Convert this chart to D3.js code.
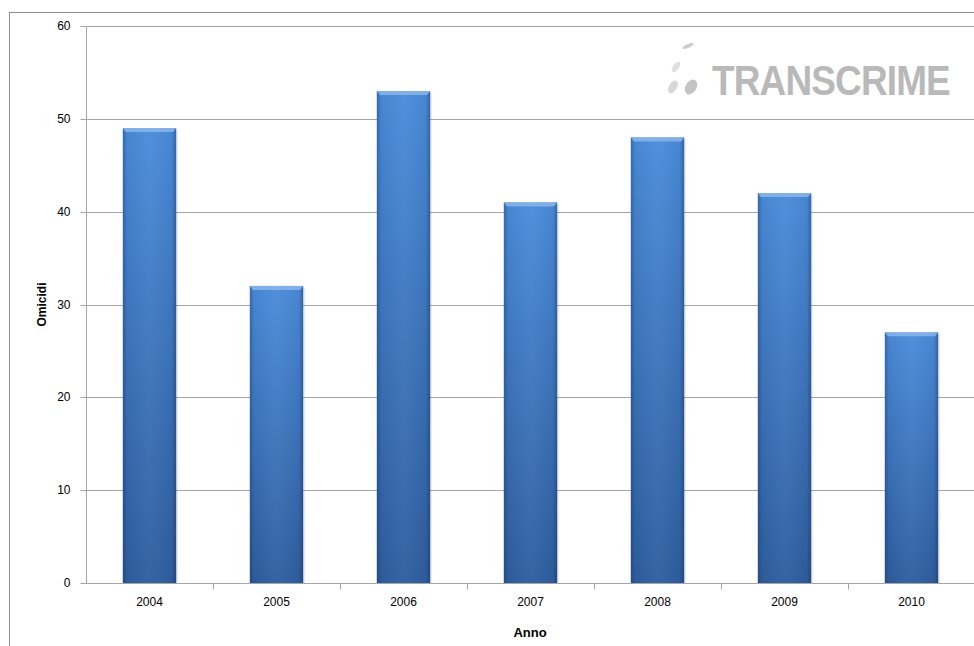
<!DOCTYPE html>
<html><head><meta charset="utf-8">
<script src="https://cdn.jsdelivr.net/npm/d3@7"></script>
<style>body{margin:0;background:#fff}svg{display:block}</style>
</head><body>
<svg id="c" width="974" height="646"></svg>
<script>
const years = ["2004","2005","2006","2007","2008","2009","2010"];
const omicidi = [49, 32, 53, 41, 48, 42, 27];
const yTicks = [0, 10, 20, 30, 40, 50, 60];
const yTitle = "Omicidi";
const xTitle = "Anno";
const logoText = "TRANSCRIME";

const svg = d3.select("#c");
const m = {left: 86, top: 26, right: 975, bottom: 583};
const FONT = "Arial, 'Liberation Sans', sans-serif";

// outer frame (extends beyond canvas)
svg.append("rect").attr("x", 9.5).attr("y", 12.5).attr("width", 1000).attr("height", 700)
  .attr("fill", "none").attr("stroke", "#8c8c8c").attr("stroke-width", 1);

const x = d3.scaleBand().domain(years).range([m.left, m.right]).paddingInner(0.58).paddingOuter(0.29);
const xb = d3.scaleBand().domain(years).range([m.left, m.right]);
const y = d3.scaleLinear().domain([0, 60]).range([m.bottom, m.top]);

const defs = svg.append("defs");
const gv = defs.append("linearGradient").attr("id", "gv").attr("x1", 0).attr("y1", 0).attr("x2", 0).attr("y2", 1);
gv.append("stop").attr("offset", 0).attr("stop-color", "#4a8bd9");
gv.append("stop").attr("offset", 1).attr("stop-color", "#2e5d9e");
const gh = defs.append("linearGradient").attr("id", "gh").attr("x1", 0).attr("y1", 0).attr("x2", 1).attr("y2", 0);
gh.append("stop").attr("offset", 0).attr("stop-color", "#10284d").attr("stop-opacity", 0.35);
gh.append("stop").attr("offset", 0.08).attr("stop-color", "#10284d").attr("stop-opacity", 0.05);
gh.append("stop").attr("offset", 0.5).attr("stop-color", "#ffffff").attr("stop-opacity", 0.04);
gh.append("stop").attr("offset", 0.92).attr("stop-color", "#10284d").attr("stop-opacity", 0.05);
gh.append("stop").attr("offset", 1).attr("stop-color", "#10284d").attr("stop-opacity", 0.4);

// gridlines
svg.append("g").selectAll("line").data(yTicks.filter(d => d > 0)).join("line")
  .attr("x1", m.left).attr("x2", m.right).attr("y1", d => Math.round(y(d)) + 0.5).attr("y2", d => Math.round(y(d)) + 0.5)
  .attr("stroke", "#a6a6a6").attr("stroke-width", 1);

// bars
const bars = svg.append("g");
bars.selectAll("rect.sh").data(years).join("rect").attr("class", "sh")
  .attr("x", d => x(d) + 2).attr("y", (d, i) => y(omicidi[i]) + 2)
  .attr("width", x.bandwidth()).attr("height", (d, i) => y(0) - y(omicidi[i]) - 2)
  .attr("fill", "#000").attr("opacity", 0.08);
bars.selectAll("rect.b").data(years).join("rect").attr("class", "b")
  .attr("x", d => x(d)).attr("y", (d, i) => y(omicidi[i]))
  .attr("width", x.bandwidth()).attr("height", (d, i) => y(0) - y(omicidi[i]))
  .attr("fill", "url(#gv)");
bars.selectAll("rect.h").data(years).join("rect").attr("class", "h")
  .attr("x", d => x(d)).attr("y", (d, i) => y(omicidi[i]))
  .attr("width", x.bandwidth()).attr("height", (d, i) => y(0) - y(omicidi[i]))
  .attr("fill", "url(#gh)");
bars.selectAll("path.t").data(years).join("path").attr("class", "t")
  .attr("d", (d, i) => {
    const x0 = x(d), x1 = x(d) + x.bandwidth(), t = y(omicidi[i]);
    return `M${x0},${t}L${x1},${t}L${x1 - 3},${t + 4}L${x0 + 3},${t + 4}Z`;
  })
  .attr("fill", "#8fb8ec").attr("opacity", 0.8);

// y axis
const ya = svg.append("g").attr("transform", `translate(${m.left + 0.5},0)`)
  .call(d3.axisLeft(y).tickValues(yTicks).tickSize(6).tickPadding(10));
ya.select(".domain").attr("stroke", "#a6a6a6").attr("d", `M0,${m.bottom + 0.5}V${m.top}`);
ya.selectAll(".tick line").attr("stroke", "#a6a6a6");
ya.selectAll(".tick").attr("transform", d => `translate(0,${Math.round(y(d)) + 0.5})`);
ya.selectAll("text").attr("font-family", FONT).attr("font-size", 12).attr("fill", "#000");

// x axis
const xa = svg.append("g").attr("transform", `translate(0,${m.bottom + 0.5})`)
  .call(d3.axisBottom(xb).tickSize(0).tickPadding(14));
xa.select(".domain").attr("stroke", "#a6a6a6").attr("d", `M${m.left},0H${m.right}`);
xa.selectAll("text").attr("font-family", FONT).attr("font-size", 12).attr("fill", "#000");
xa.append("g").selectAll("line").data(years.slice(1)).join("line")
  .attr("x1", d => Math.round(xb(d)) + 0.5).attr("x2", d => Math.round(xb(d)) + 0.5)
  .attr("y1", 0).attr("y2", 6).attr("stroke", "#a6a6a6");

// axis titles
svg.append("text").attr("transform", `translate(46,${(m.top + m.bottom) / 2}) rotate(-90)`)
  .attr("text-anchor", "middle").attr("font-family", FONT)
  .attr("font-size", 12).attr("font-weight", "bold").text(yTitle);
svg.append("text").attr("x", 530).attr("y", 637)
  .attr("text-anchor", "middle").attr("font-family", FONT)
  .attr("font-size", 13).attr("font-weight", "bold").text(xTitle);

// logo
const lg = svg.append("g");
lg.append("text").attr("transform", "translate(712,95) scale(0.86,1)")
  .attr("font-family", FONT).attr("font-weight", "bold").attr("font-size", 43)
  .attr("fill", "#b9b9b9").attr("letter-spacing", -1).text(logoText);
lg.append("ellipse").attr("cx", 688).attr("cy", 46).attr("rx", 6).attr("ry", 2).attr("transform", "rotate(-25 688 46)").attr("fill", "#cdcdcd");
lg.append("ellipse").attr("cx", 676).attr("cy", 67).attr("rx", 3).attr("ry", 6).attr("transform", "rotate(35 676 67)").attr("fill", "#dedede");
lg.append("ellipse").attr("cx", 673).attr("cy", 87).attr("rx", 4).attr("ry", 7).attr("transform", "rotate(30 673 87)").attr("fill", "#d8d8d8");
lg.append("ellipse").attr("cx", 691).attr("cy", 87).attr("rx", 5.5).attr("ry", 8).attr("transform", "rotate(30 691 87)").attr("fill", "#c4c4c4");
</script>
</body></html>
